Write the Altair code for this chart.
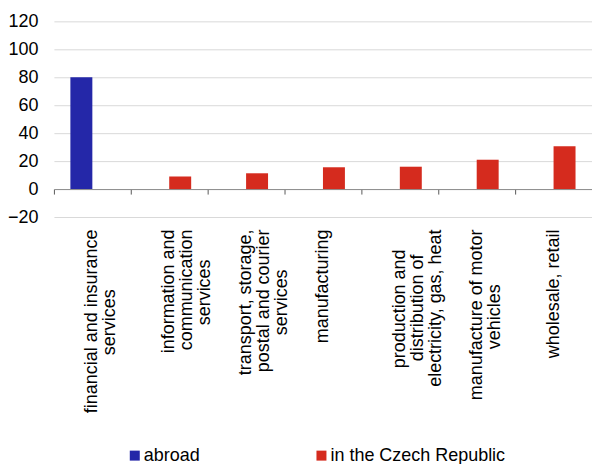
import json
import altair as alt
import pandas as pd

categories = [
    "financial and insurance services",
    "information and communication services",
    "transport, storage, postal and courier services",
    "manufacturing",
    "production and distribution of electricity, gas, heat",
    "manufacture of motor vehicles",
    "wholesale, retail",
]
label_lines = [
    ["financial and insurance", "services"],
    ["information and", "communication", "services"],
    ["transport, storage,", "postal and courier", "services"],
    ["manufacturing"],
    ["production and", "distribution of", "electricity, gas, heat"],
    ["manufacture of motor", "vehicles"],
    ["wholesale, retail"],
]
series = ["abroad", "in the Czech Republic"]
abroad = [80, None, None, None, None, None, None]
czech = [None, 9, 11.3, 15.6, 16, 21, 30.6]
colors = ["#2427A8", "#D52B1E"]
y_ticks = [-20, 0, 20, 40, 60, 80, 100, 120]

rows = []
for c, a, z in zip(categories, abroad, czech):
    if a is not None:
        rows.append({"category": c, "series": series[0], "value": a})
    if z is not None:
        rows.append({"category": c, "series": series[1], "value": z})
df = pd.DataFrame(rows)

# Arial / Liberation Sans advance widths (per 1000 em) to centre wrapped lines
W = {"a": 556, "b": 556, "c": 500, "d": 556, "e": 556, "f": 278, "g": 556,
     "h": 556, "i": 222, "j": 222, "k": 500, "l": 222, "m": 833, "n": 556,
     "o": 556, "p": 556, "q": 556, "r": 333, "s": 500, "t": 278, "u": 556,
     "v": 500, "w": 722, "x": 500, "y": 500, "z": 500, ",": 278, " ": 278}


def text_w(s):
    return sum(W.get(ch, 556) for ch in s)


label_map = {}
for cat, lines in zip(categories, label_lines):
    wmax = max(text_w(l) for l in lines)
    padded = []
    for l in lines:
        n = int(round((wmax - text_w(l)) / 2 / 278))
        # non-breaking spaces, closed by a zero-width space so they survive trimming
        padded.append(l + "\u00a0" * n + ("\u200b" if n else ""))
    label_map[cat] = padded
label_expr = json.dumps(label_map, ensure_ascii=False) + "[datum.label]"

FONT = "Liberation Sans"

yenc = alt.Y(
    "value:Q",
    scale=alt.Scale(domain=[-20, 120], nice=False, zero=False),
    axis=alt.Axis(
        values=y_ticks, title=None, domain=False, ticks=False,
        grid=True, gridColor="#d9d9d9", gridWidth=1,
        labelFont=FONT, labelFontSize=18, labelColor="#000000",
        labelPadding=16,
    ),
)
xoff = alt.XOffset("series:N", sort=series,
                   scale=alt.Scale(paddingOuter=0.75, paddingInner=0))
color = alt.Color(
    "series:N", sort=series,
    scale=alt.Scale(domain=series, range=colors),
    legend=alt.Legend(
        title=None, orient="none", direction="horizontal",
        legendX=72, legendY=426, symbolType="square", symbolSize=100,
        symbolStrokeWidth=0, labelFont=FONT, labelFontSize=18,
        labelColor="#000000", labelOffset=0, columnPadding=112, padding=0,
        labelLimit=400,
    ),
)
xscale = alt.Scale(paddingInner=0, paddingOuter=0)

bars = alt.Chart(df).mark_bar().encode(
    x=alt.X("category:N", sort=categories, scale=xscale,
            axis=alt.Axis(orient="bottom", title=None, labels=False, grid=False,
                          domain=True, domainColor="#8c8c8c", domainWidth=1,
                          ticks=True, tickColor="#595959", tickSize=5,
                          bandPosition=0, offset=-28)),
    xOffset=xoff,
    y=yenc,
    color=color,
)

labels = alt.Chart(df).mark_bar(opacity=0).encode(
    x=alt.X("category:N", sort=categories, scale=xscale,
            axis=alt.Axis(orient="bottom", title=None, labels=True, grid=False,
                          domain=False, ticks=False, labelAngle=270,
                          labelAlign="right", labelBaseline="middle",
                          labelPadding=12, labelFont=FONT, labelFontSize=18,
                          labelColor="#000000", labelLineHeight=18,
                          labelLimit=300, labelExpr=label_expr)),
    xOffset=xoff,
    y=yenc,
)

chart = alt.layer(bars, labels).resolve_axis(x="independent").properties(
    width=539, height=196,
    autosize=alt.AutoSizeParams(type="none"),
    padding={"left": 54, "top": 21, "right": 0, "bottom": 247},
).configure_view(stroke=None)

chart.save("out.html", embed_options={"renderer": "svg", "actions": False})
